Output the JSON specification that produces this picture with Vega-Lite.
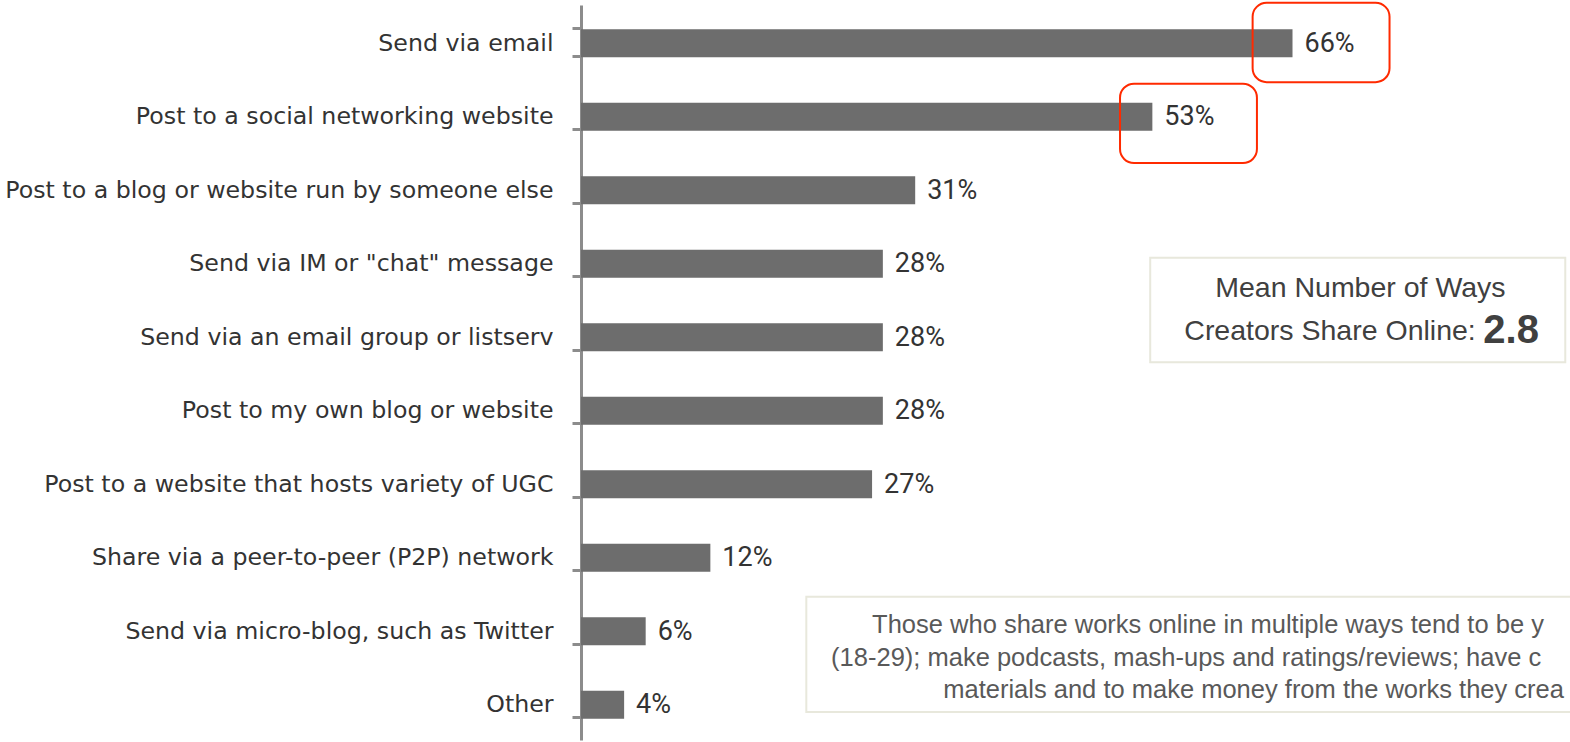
{
  "$schema": "https://vega.github.io/schema/vega-lite/v6.json",
  "autosize": {"type": "none"},
  "width": 989,
  "height": 735,
  "padding": {"left": 581, "top": 5, "right": 0, "bottom": 2},
  "background": "white",
  "config": {"view": {"stroke": null}},
  "datasets": {
    "bars": [
      {"item": "Send via email", "pct": 0.66},
      {"item": "Post to a social networking website", "pct": 0.53},
      {"item": "Post to a blog or website run by someone else", "pct": 0.31},
      {"item": "Send via IM or \"chat\" message", "pct": 0.28},
      {"item": "Send via an email group or listserv", "pct": 0.28},
      {"item": "Post to my own blog or website", "pct": 0.28},
      {"item": "Post to a website that hosts variety of UGC", "pct": 0.27},
      {"item": "Share via a peer-to-peer (P2P) network", "pct": 0.12},
      {"item": "Send via micro-blog, such as Twitter", "pct": 0.06},
      {"item": "Other", "pct": 0.04}
    ],
    "highlights": [
      {"x1": 0.623, "x2": 0.750, "y1": -0.03, "y2": 1.05},
      {"x1": 0.500, "x2": 0.627, "y1": 1.07, "y2": 2.15}
    ],
    "panels": [
      {"x1": 0.528, "x2": 0.913, "y1": 3.44, "y2": 4.86},
      {"x1": 0.209, "x2": 1.2, "y1": 8.05, "y2": 9.62}
    ],
    "meanLine1": [{"x": 0.723, "y": 3.85, "t": "Mean Number of Ways"}],
    "meanLine2": [{"x": 0.830, "y": 4.43, "t": "Creators Share Online:"}],
    "meanValue": [{"x": 0.837, "y": 4.43, "t": "2.8"}],
    "note": [
      {"x": 0.270, "y": 8.44, "t": "Those who share works online in multiple ways tend to be y"},
      {"x": 0.232, "y": 8.88, "t": "(18-29); make podcasts, mash-ups and ratings/reviews; have c"},
      {"x": 0.336, "y": 9.32, "t": "materials and to make money from the works they crea"}
    ]
  },
  "layer": [
    {
      "data": {"name": "bars"},
      "layer": [
        {
          "mark": {"type": "bar", "color": "#6d6d6d", "yOffset": 1.5},
          "encoding": {
            "y": {
              "field": "item", "type": "nominal", "sort": null,
              "scale": {"paddingInner": 0.62, "paddingOuter": 0.31},
              "axis": {
                "title": null, "domainColor": "#8c8c8c", "domainWidth": 3,
                "tickColor": "#8c8c8c", "tickWidth": 3, "tickSize": 9,
                "tickBand": "extent", "labelPadding": 19,
                "labelFont": "DejaVu Sans", "labelFontSize": 23.7, "labelColor": "#333333",
                "labelLimit": 700, "labelOffset": 1.5
              }
            },
            "x": {"field": "pct", "type": "quantitative", "scale": {"domain": [0, 0.9174], "nice": false}, "axis": null}
          }
        },
        {
          "mark": {"type": "text", "align": "left", "baseline": "middle", "dx": 12, "dy": 2, "font": "Roboto", "fontSize": 27, "color": "#333333"},
          "encoding": {
            "y": {"field": "item", "type": "nominal", "sort": null},
            "x": {"field": "pct", "type": "quantitative", "scale": {"domain": [0, 0.9174], "nice": false}},
            "text": {"field": "pct", "type": "quantitative", "format": ".0%"}
          }
        }
      ]
    },
    {
      "data": {"name": "highlights"},
      "mark": {"type": "rect", "fill": null, "stroke": "#ff2a00", "strokeWidth": 2, "cornerRadius": 14},
      "encoding": {
        "x": {"field": "x1", "type": "quantitative", "scale": {"domain": [0, 0.9174], "nice": false}},
        "x2": {"field": "x2"},
        "y": {"field": "y1", "type": "quantitative", "scale": {"domain": [0, 10], "reverse": true, "nice": false, "zero": false}, "axis": null},
        "y2": {"field": "y2"}
      }
    },
    {
      "data": {"name": "panels"},
      "mark": {"type": "rect", "fill": "white", "stroke": "#e8e8dc", "strokeWidth": 2},
      "encoding": {
        "x": {"field": "x1", "type": "quantitative", "scale": {"domain": [0, 0.9174], "nice": false}},
        "x2": {"field": "x2"},
        "y": {"field": "y1", "type": "quantitative", "scale": {"domain": [0, 10], "reverse": true, "nice": false, "zero": false}, "axis": null},
        "y2": {"field": "y2"}
      }
    },
    {
      "data": {"name": "meanLine1"},
      "mark": {"type": "text", "align": "center", "baseline": "middle", "font": "Liberation Sans", "fontSize": 28.5, "color": "#404040"},
      "encoding": {
        "x": {"field": "x", "type": "quantitative", "scale": {"domain": [0, 0.9174], "nice": false}},
        "y": {"field": "y", "type": "quantitative", "scale": {"domain": [0, 10], "reverse": true, "nice": false, "zero": false}, "axis": null},
        "text": {"field": "t"}
      }
    },
    {
      "data": {"name": "meanLine2"},
      "mark": {"type": "text", "align": "right", "baseline": "middle", "font": "Liberation Sans", "fontSize": 28.5, "color": "#404040"},
      "encoding": {
        "x": {"field": "x", "type": "quantitative", "scale": {"domain": [0, 0.9174], "nice": false}},
        "y": {"field": "y", "type": "quantitative", "scale": {"domain": [0, 10], "reverse": true, "nice": false, "zero": false}, "axis": null},
        "text": {"field": "t"}
      }
    },
    {
      "data": {"name": "meanValue"},
      "mark": {"type": "text", "align": "left", "baseline": "middle", "font": "Liberation Sans", "fontSize": 40, "fontWeight": "bold", "color": "#404040"},
      "encoding": {
        "x": {"field": "x", "type": "quantitative", "scale": {"domain": [0, 0.9174], "nice": false}},
        "y": {"field": "y", "type": "quantitative", "scale": {"domain": [0, 10], "reverse": true, "nice": false, "zero": false}, "axis": null},
        "text": {"field": "t"}
      }
    },
    {
      "data": {"name": "note"},
      "mark": {"type": "text", "align": "left", "baseline": "middle", "font": "Liberation Sans", "fontSize": 25.5, "color": "#595959"},
      "encoding": {
        "x": {"field": "x", "type": "quantitative", "scale": {"domain": [0, 0.9174], "nice": false}},
        "y": {"field": "y", "type": "quantitative", "scale": {"domain": [0, 10], "reverse": true, "nice": false, "zero": false}, "axis": null},
        "text": {"field": "t"}
      }
    }
  ],
  "resolve": {"scale": {"y": "independent"}}
}
